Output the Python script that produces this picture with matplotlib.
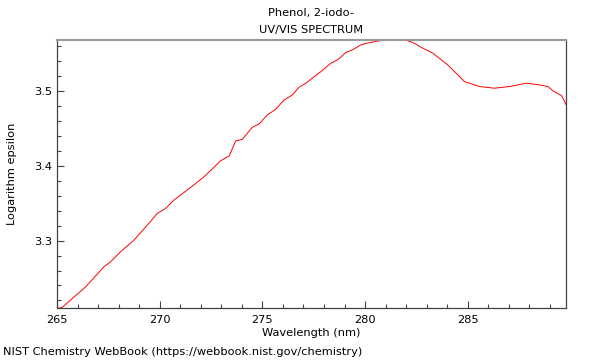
import matplotlib
matplotlib.use("Agg")
import matplotlib.pyplot as plt
from matplotlib.ticker import MultipleLocator

wavelength = [265.0, 265.24, 266.39, 267.28, 267.60, 268.09, 268.74, 269.47, 269.88, 270.29,
              270.69, 271.51, 272.16, 272.97, 273.38, 273.70, 274.02, 274.51, 274.84, 275.24,
              275.65, 276.06, 276.46, 276.79, 277.12, 277.52, 277.85, 278.34, 278.66, 279.07,
              279.39, 279.80, 280.12, 280.69, 281.34, 281.91, 282.32, 282.80, 283.29, 284.02,
              284.43, 284.84, 285.57, 286.30, 287.03, 287.85, 288.50, 288.90, 289.15, 289.56,
              289.72, 289.77]
log_eps = [3.2095, 3.2104, 3.238, 3.2648, 3.2715, 3.2849, 3.3005, 3.3229, 3.3363, 3.343,
           3.3541, 3.3711, 3.3853, 3.4067, 3.413, 3.4331, 3.4353, 3.4514, 3.4558, 3.4679,
           3.4755, 3.488, 3.4946, 3.505, 3.5103, 3.5191, 3.5258, 3.5371, 3.5415, 3.5513,
           3.5549, 3.5616, 3.5639, 3.5669, 3.5687, 3.5683, 3.5647, 3.5572, 3.5505, 3.5348,
           3.5237, 3.5124, 3.5058, 3.5036, 3.5058, 3.5103, 3.508, 3.5058, 3.5, 3.4937,
           3.4857, 3.482]

title_lines = ["Phenol, 2-iodo-", "UV/VIS SPECTRUM"]
x_label = "Wavelength (nm)"
y_label = "Logarithm epsilon"
footer = "NIST Chemistry WebBook (https://webbook.nist.gov/chemistry)"

fs = 8.2
fig = plt.figure(figsize=(6, 3.6), dpi=100)
ax = fig.add_axes([0.095, 0.1444, 0.848, 0.7445])
ax.plot(wavelength, log_eps, color="#ff0000", lw=0.7)
ax.set_xlim(265, 289.77)
ax.set_ylim(3.2099, 3.568)

ax.xaxis.set_major_locator(MultipleLocator(5))
ax.xaxis.set_minor_locator(MultipleLocator(1))
ax.yaxis.set_major_locator(MultipleLocator(0.1))
ax.yaxis.set_minor_locator(MultipleLocator(0.02))
ax.yaxis.set_major_formatter(plt.FuncFormatter(lambda v, p: f"{v:.1f}"))
ax.tick_params(which="both", direction="in", colors="#444444", labelcolor="black", labelsize=fs, width=0.8)
ax.tick_params(which="major", length=5)
ax.tick_params(which="minor", length=3)
ax.tick_params(axis="x", pad=5)
for s in ["left", "bottom", "right"]:
    ax.spines[s].set_color("#444444")
    ax.spines[s].set_linewidth(0.9)
ax.spines["top"].set_color("#999999")
ax.spines["top"].set_linewidth(1.5)

ax.set_xlabel(x_label, fontsize=fs, labelpad=2.5)
ax.set_ylabel(y_label, fontsize=fs, labelpad=12)
fig.text(0.5 * (0.095 + 0.943), 0.965, title_lines[0], ha="center", va="center", fontsize=fs)
fig.text(0.5 * (0.095 + 0.943), 0.918, title_lines[1], ha="center", va="center", fontsize=fs)
fig.text(0.005, 0.022, footer, ha="left", va="center", fontsize=fs)

fig.savefig("out.png", dpi=100)
